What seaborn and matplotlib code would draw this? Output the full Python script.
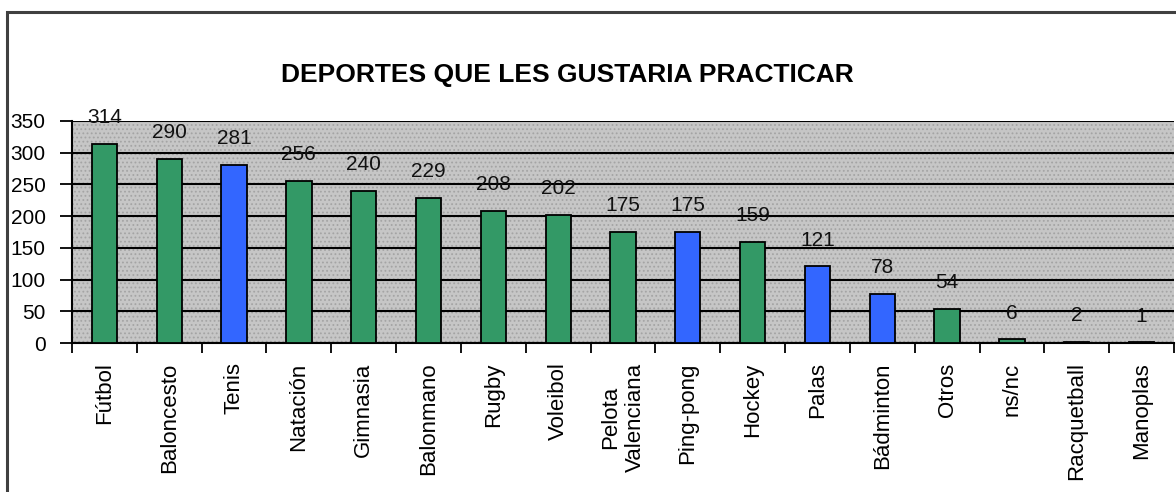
import matplotlib
matplotlib.use('Agg')
import matplotlib.pyplot as plt
from matplotlib.patches import Rectangle
import seaborn as sns

# data
deportes = ['Fútbol', 'Baloncesto', 'Tenis', 'Natación', 'Gimnasia', 'Balonmano',
            'Rugby', 'Voleibol', 'Pelota\nValenciana', 'Ping-pong', 'Hockey', 'Palas',
            'Bádminton', 'Otros', 'ns/nc', 'Racquetball', 'Manoplas']
votos = [314, 290, 281, 256, 240, 229, 208, 202, 175, 175, 159, 121, 78, 54, 6, 2, 1]
grupo = ['v', 'v', 'a', 'v', 'v', 'v', 'v', 'v', 'v', 'a', 'v', 'a', 'a', 'v', 'v', 'v', 'v']
y_ticks = [0, 50, 100, 150, 200, 250, 300, 350]
titulo = 'DEPORTES QUE LES GUSTARIA PRACTICAR'

VERDE = '#339966'
AZUL = '#3366ff'

sns.set_theme(style='white')
plt.rcParams['font.family'] = ['Liberation Sans', 'DejaVu Sans']
plt.rcParams['text.color'] = 'black'
plt.rcParams['xtick.color'] = 'black'
plt.rcParams['ytick.color'] = 'black'
plt.rcParams['xtick.bottom'] = True
plt.rcParams['ytick.left'] = True
plt.rcParams['hatch.color'] = '#a4a4a4'
plt.rcParams['hatch.linewidth'] = 0.8

fig = plt.figure(figsize=(11.76, 4.92), dpi=100)
ax = fig.add_axes([0.0612, 0.3028, 0.9371, 0.4513])

# dotted grey plot area
ax.set_facecolor('#c6c6c6')
ax.add_patch(Rectangle((0, 0), 1, 1, transform=ax.transAxes, facecolor='none',
                       edgecolor='#a4a4a4', hatch='....', lw=0, zorder=0))

colores = [VERDE if g == 'v' else AZUL for g in grupo]
sns.barplot(x=deportes, y=votos, hue=deportes, palette=colores, legend=False,
            width=0.39, edgecolor='black', linewidth=1.3, saturation=1, ax=ax, zorder=3)

for cont in ax.containers:
    ax.bar_label(cont, fontsize=15, padding=12, color='#111111')

ax.set_ylim(0, 350)
ax.set_xlim(-0.5, len(deportes) - 0.5)
ax.set_yticks(y_ticks)
ax.yaxis.grid(True, color='black', linewidth=1.5)
ax.set_axisbelow(True)

# category labels centred, tick marks at category boundaries
ax.set_xticks(range(len(deportes)))
ax.set_xticklabels(deportes, rotation=90, fontsize=16, ha='center', va='top')
ax.set_xticks([i - 0.5 for i in range(len(deportes) + 1)], minor=True)
ax.tick_params(axis='x', which='major', bottom=True, length=0, pad=14)
ax.tick_params(axis='x', which='minor', bottom=True, length=7, width=1.3,
               color='black', direction='out')
ax.tick_params(axis='y', which='major', left=True, length=9, width=1.3, color='black',
               direction='out', labelsize=15, pad=10)

for s in ['top', 'right']:
    ax.spines[s].set_visible(False)
for s in ['left', 'bottom']:
    ax.spines[s].set_color('black')
    ax.spines[s].set_linewidth(1.5)

ax.set_xlabel('')
ax.set_ylabel('')

fig.text(567 / 1176, 1 - 75 / 492, titulo, ha='center', va='center',
         fontsize=19, fontweight='bold')

# outer chart frame
fig.add_artist(Rectangle((7 / 1176, -0.1), 1.2, 1.1 - 12 / 492, transform=fig.transFigure,
                         facecolor='none', edgecolor='#404040', lw=2.2))

fig.savefig('out.png', dpi=100, facecolor='white')
